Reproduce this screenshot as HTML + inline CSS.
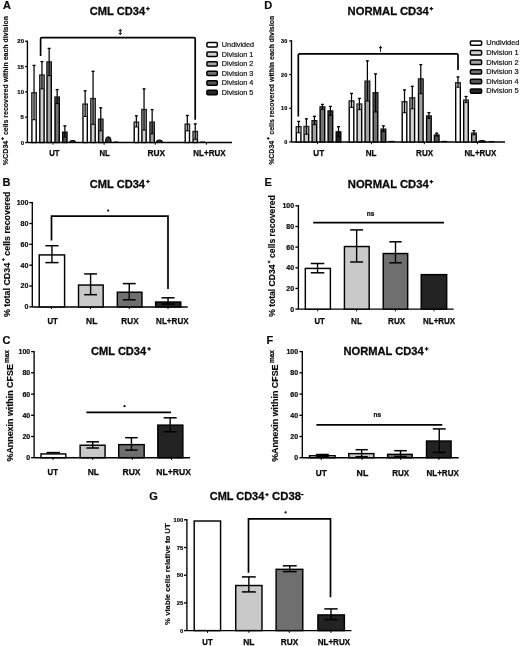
<!DOCTYPE html>
<html><head><meta charset="utf-8"><title>Figure</title>
<style>html,body{margin:0;padding:0;background:#fff;overflow:hidden;}svg{display:block;will-change:transform;filter:blur(0.3px);}</style>
</head><body>
<svg width="520" height="646" viewBox="0 0 520 646">
<rect width="520" height="646" fill="#fff"/>
<text x="3" y="8.9" font-family='"Liberation Sans", sans-serif' font-size="11" font-weight="bold" fill="#0a0a0a" stroke="#0a0a0a" stroke-width="0.2" text-anchor="start">A</text>
<text x="89.76" y="14.6" font-family='"Liberation Sans", sans-serif' font-size="11.5" font-weight="bold" fill="#0a0a0a" stroke="#0a0a0a" stroke-width="0.3" textLength="55.33" lengthAdjust="spacingAndGlyphs">CML CD34</text>
<path d="M146.1,8.6H149.7M147.9,6.8V10.4" stroke="#0a0a0a" stroke-width="1.2" fill="none"/>
<text transform="translate(8,165.28) rotate(-90)" x="0" y="0" font-family='"Liberation Sans", sans-serif' font-size="7.1" font-weight="bold" fill="#0a0a0a" stroke="#0a0a0a" stroke-width="0.15" textLength="24.62" lengthAdjust="spacingAndGlyphs">%CD34</text>
<path d="M1.2,138.6H4M2.6,137.2V140" stroke="#0a0a0a" stroke-width="0.95" fill="none"/>
<text transform="translate(8,135.08) rotate(-90)" x="0" y="0" font-family='"Liberation Sans", sans-serif' font-size="7.1" font-weight="bold" fill="#0a0a0a" stroke="#0a0a0a" stroke-width="0.15" textLength="119.01" lengthAdjust="spacingAndGlyphs">cells recovered within each division</text>
<line x1="27.4" y1="40.62" x2="27.4" y2="142.5" stroke="#000000" stroke-width="1.35"/>
<line x1="25.2" y1="41.3" x2="27.4" y2="41.3" stroke="#000000" stroke-width="1.35"/>
<text x="24.05" y="43.37" font-family='"Liberation Sans", sans-serif' font-size="6" font-weight="bold" fill="#0a0a0a" stroke="#0a0a0a" stroke-width="0.2" text-anchor="end">20</text>
<line x1="25.2" y1="66.6" x2="27.4" y2="66.6" stroke="#000000" stroke-width="1.35"/>
<text x="23.96" y="68.67" font-family='"Liberation Sans", sans-serif' font-size="6" font-weight="bold" fill="#0a0a0a" stroke="#0a0a0a" stroke-width="0.2" text-anchor="end">15</text>
<line x1="25.2" y1="91.9" x2="27.4" y2="91.9" stroke="#000000" stroke-width="1.35"/>
<text x="24.05" y="93.97" font-family='"Liberation Sans", sans-serif' font-size="6" font-weight="bold" fill="#0a0a0a" stroke="#0a0a0a" stroke-width="0.2" text-anchor="end">10</text>
<line x1="25.2" y1="117.2" x2="27.4" y2="117.2" stroke="#000000" stroke-width="1.35"/>
<text x="23.96" y="119.27" font-family='"Liberation Sans", sans-serif' font-size="6" font-weight="bold" fill="#0a0a0a" stroke="#0a0a0a" stroke-width="0.2" text-anchor="end">5</text>
<line x1="25.2" y1="142.5" x2="27.4" y2="142.5" stroke="#000000" stroke-width="1.35"/>
<text x="24.05" y="144.57" font-family='"Liberation Sans", sans-serif' font-size="6" font-weight="bold" fill="#0a0a0a" stroke="#0a0a0a" stroke-width="0.2" text-anchor="end">0</text>
<line x1="27.4" y1="142.5" x2="232" y2="142.5" stroke="#000000" stroke-width="1.45"/>
<line x1="53" y1="142.5" x2="53" y2="144.7" stroke="#000000" stroke-width="1"/>
<line x1="104.1" y1="142.5" x2="104.1" y2="144.7" stroke="#000000" stroke-width="1"/>
<line x1="155.3" y1="142.5" x2="155.3" y2="144.7" stroke="#000000" stroke-width="1"/>
<line x1="206.4" y1="142.5" x2="206.4" y2="144.7" stroke="#000000" stroke-width="1"/>
<rect x="31.9" y="92.9" width="4.3" height="49.6" fill="#ffffff" stroke="#000000" stroke-width="1.4" rx="0"/>
<rect x="31.8" y="92.8" width="4.5" height="26.9" fill="#8c8c8c" opacity="0.45"/>
<line x1="34.05" y1="92.2" x2="34.05" y2="119.7" stroke="#000000" stroke-width="1.1"/>
<line x1="32.55" y1="119.7" x2="35.55" y2="119.7" stroke="#000000" stroke-width="1.1"/>
<line x1="34.05" y1="65" x2="34.05" y2="92.2" stroke="#000000" stroke-width="1.25"/>
<line x1="32.55" y1="65.4" x2="35.55" y2="65.4" stroke="#000000" stroke-width="1.3"/>
<rect x="39.8" y="75.1" width="4.3" height="67.4" fill="#d0d0d0" stroke="#000000" stroke-width="1.4" rx="0"/>
<rect x="39.7" y="75" width="4.5" height="13.8" fill="#7a7a7a" opacity="0.55"/>
<line x1="41.95" y1="74.4" x2="41.95" y2="88.8" stroke="#000000" stroke-width="1.1"/>
<line x1="40.45" y1="88.8" x2="43.45" y2="88.8" stroke="#000000" stroke-width="1.1"/>
<line x1="41.95" y1="61.2" x2="41.95" y2="74.4" stroke="#000000" stroke-width="1.25"/>
<line x1="40.45" y1="61.6" x2="43.45" y2="61.6" stroke="#000000" stroke-width="1.3"/>
<rect x="47" y="62" width="4.3" height="80.5" fill="#a2a2a2" stroke="#000000" stroke-width="1.4" rx="0"/>
<rect x="46.9" y="61.9" width="4.5" height="13.7" fill="#505050" opacity="0.7"/>
<line x1="49.15" y1="61.3" x2="49.15" y2="75.6" stroke="#000000" stroke-width="1.1"/>
<line x1="47.65" y1="75.6" x2="50.65" y2="75.6" stroke="#000000" stroke-width="1.1"/>
<line x1="49.15" y1="48" x2="49.15" y2="61.3" stroke="#000000" stroke-width="1.25"/>
<line x1="47.65" y1="48.4" x2="50.65" y2="48.4" stroke="#000000" stroke-width="1.3"/>
<rect x="55" y="97.1" width="4.3" height="45.4" fill="#727272" stroke="#000000" stroke-width="1.4" rx="0"/>
<rect x="54.9" y="97" width="4.5" height="6.6" fill="#383838" opacity="0.7"/>
<line x1="57.15" y1="96.4" x2="57.15" y2="103.6" stroke="#000000" stroke-width="1.1"/>
<line x1="55.65" y1="103.6" x2="58.65" y2="103.6" stroke="#000000" stroke-width="1.1"/>
<line x1="57.15" y1="89.2" x2="57.15" y2="96.4" stroke="#000000" stroke-width="1.25"/>
<line x1="55.65" y1="89.6" x2="58.65" y2="89.6" stroke="#000000" stroke-width="1.3"/>
<rect x="62.7" y="132.2" width="4.3" height="10.3" fill="#545454" stroke="#000000" stroke-width="1.4" rx="0"/>
<rect x="62.6" y="132.1" width="4.5" height="4.9" fill="#2a2a2a" opacity="0.6"/>
<line x1="64.85" y1="131.5" x2="64.85" y2="137" stroke="#000000" stroke-width="1.1"/>
<line x1="63.35" y1="137" x2="66.35" y2="137" stroke="#000000" stroke-width="1.1"/>
<line x1="64.85" y1="125.5" x2="64.85" y2="131.5" stroke="#000000" stroke-width="1.25"/>
<line x1="63.35" y1="125.9" x2="66.35" y2="125.9" stroke="#000000" stroke-width="1.3"/>
<rect x="83" y="104.2" width="4.3" height="38.3" fill="#ffffff" stroke="#000000" stroke-width="1.4" rx="0"/>
<rect x="82.9" y="104.1" width="4.5" height="12.3" fill="#8c8c8c" opacity="0.45"/>
<line x1="85.15" y1="103.5" x2="85.15" y2="116.4" stroke="#000000" stroke-width="1.1"/>
<line x1="83.65" y1="116.4" x2="86.65" y2="116.4" stroke="#000000" stroke-width="1.1"/>
<line x1="85.15" y1="90.4" x2="85.15" y2="103.5" stroke="#000000" stroke-width="1.25"/>
<line x1="83.65" y1="90.8" x2="86.65" y2="90.8" stroke="#000000" stroke-width="1.3"/>
<rect x="90.9" y="98.6" width="4.3" height="43.9" fill="#d0d0d0" stroke="#000000" stroke-width="1.4" rx="0"/>
<rect x="90.8" y="98.5" width="4.5" height="25.8" fill="#7a7a7a" opacity="0.55"/>
<line x1="93.05" y1="97.9" x2="93.05" y2="124.3" stroke="#000000" stroke-width="1.1"/>
<line x1="91.55" y1="124.3" x2="94.55" y2="124.3" stroke="#000000" stroke-width="1.1"/>
<line x1="93.05" y1="70.9" x2="93.05" y2="97.9" stroke="#000000" stroke-width="1.25"/>
<line x1="91.55" y1="71.3" x2="94.55" y2="71.3" stroke="#000000" stroke-width="1.3"/>
<rect x="98.6" y="119.2" width="4.3" height="23.3" fill="#a2a2a2" stroke="#000000" stroke-width="1.4" rx="0"/>
<rect x="98.5" y="119.1" width="4.5" height="11.7" fill="#505050" opacity="0.7"/>
<line x1="100.75" y1="118.5" x2="100.75" y2="130.8" stroke="#000000" stroke-width="1.1"/>
<line x1="99.25" y1="130.8" x2="102.25" y2="130.8" stroke="#000000" stroke-width="1.1"/>
<line x1="100.75" y1="107.4" x2="100.75" y2="118.5" stroke="#000000" stroke-width="1.25"/>
<line x1="99.25" y1="107.8" x2="102.25" y2="107.8" stroke="#000000" stroke-width="1.3"/>
<rect x="134.2" y="122.2" width="4.3" height="20.3" fill="#ffffff" stroke="#000000" stroke-width="1.4" rx="0"/>
<rect x="134.1" y="122.1" width="4.5" height="4.8" fill="#8c8c8c" opacity="0.45"/>
<line x1="136.35" y1="121.5" x2="136.35" y2="126.9" stroke="#000000" stroke-width="1.1"/>
<line x1="134.85" y1="126.9" x2="137.85" y2="126.9" stroke="#000000" stroke-width="1.1"/>
<line x1="136.35" y1="115.4" x2="136.35" y2="121.5" stroke="#000000" stroke-width="1.25"/>
<line x1="134.85" y1="115.8" x2="137.85" y2="115.8" stroke="#000000" stroke-width="1.3"/>
<rect x="141.9" y="109.5" width="4.3" height="33" fill="#d0d0d0" stroke="#000000" stroke-width="1.4" rx="0"/>
<rect x="141.8" y="109.4" width="4.5" height="20.6" fill="#7a7a7a" opacity="0.55"/>
<line x1="144.05" y1="108.8" x2="144.05" y2="130" stroke="#000000" stroke-width="1.1"/>
<line x1="142.55" y1="130" x2="145.55" y2="130" stroke="#000000" stroke-width="1.1"/>
<line x1="144.05" y1="88.5" x2="144.05" y2="108.8" stroke="#000000" stroke-width="1.25"/>
<line x1="142.55" y1="88.9" x2="145.55" y2="88.9" stroke="#000000" stroke-width="1.3"/>
<rect x="150" y="122.2" width="4.3" height="20.3" fill="#a2a2a2" stroke="#000000" stroke-width="1.4" rx="0"/>
<rect x="149.9" y="122.1" width="4.5" height="11.7" fill="#505050" opacity="0.7"/>
<line x1="152.15" y1="121.5" x2="152.15" y2="133.8" stroke="#000000" stroke-width="1.1"/>
<line x1="150.65" y1="133.8" x2="153.65" y2="133.8" stroke="#000000" stroke-width="1.1"/>
<line x1="152.15" y1="109.2" x2="152.15" y2="121.5" stroke="#000000" stroke-width="1.25"/>
<line x1="150.65" y1="109.6" x2="153.65" y2="109.6" stroke="#000000" stroke-width="1.3"/>
<rect x="185.2" y="124.2" width="4.3" height="18.3" fill="#ffffff" stroke="#000000" stroke-width="1.4" rx="0"/>
<rect x="185.1" y="124.1" width="4.5" height="6.7" fill="#8c8c8c" opacity="0.45"/>
<line x1="187.35" y1="123.5" x2="187.35" y2="130.8" stroke="#000000" stroke-width="1.1"/>
<line x1="185.85" y1="130.8" x2="188.85" y2="130.8" stroke="#000000" stroke-width="1.1"/>
<line x1="187.35" y1="115.1" x2="187.35" y2="123.5" stroke="#000000" stroke-width="1.25"/>
<line x1="185.85" y1="115.5" x2="188.85" y2="115.5" stroke="#000000" stroke-width="1.3"/>
<rect x="193.1" y="131.5" width="4.3" height="11" fill="#d0d0d0" stroke="#000000" stroke-width="1.4" rx="0"/>
<rect x="193" y="131.4" width="4.5" height="7.8" fill="#7a7a7a" opacity="0.55"/>
<line x1="195.25" y1="130.8" x2="195.25" y2="139.2" stroke="#000000" stroke-width="1.1"/>
<line x1="193.75" y1="139.2" x2="196.75" y2="139.2" stroke="#000000" stroke-width="1.1"/>
<line x1="195.25" y1="123.5" x2="195.25" y2="130.8" stroke="#000000" stroke-width="1.25"/>
<line x1="193.75" y1="123.9" x2="196.75" y2="123.9" stroke="#000000" stroke-width="1.3"/>
<path d="M69.8,142.5 Q69.8,140.6 72.65,140.6 Q75.5,140.6 75.5,142.5 Z" stroke="#000000" stroke-width="1.1" fill="#333"/>
<path d="M105.5,142.5 Q105.5,136.9 108.3,136.9 Q111.1,136.9 111.1,142.5 Z" stroke="#000000" stroke-width="1.1" fill="#333"/>
<line x1="113.9" y1="142.1" x2="118.5" y2="142.1" stroke="#000000" stroke-width="1.2"/>
<path d="M156.5,142.5 Q156.5,140 159.45,140 Q162.4,140 162.4,142.5 Z" stroke="#000000" stroke-width="1.1" fill="#333"/>
<line x1="200.4" y1="142.1" x2="205" y2="142.1" stroke="#000000" stroke-width="1.2"/>
<path d="M40.6,56.1 V38.8 Q40.6,37.6 41.8,37.6 H194 Q195.2,37.6 195.2,38.8 V119.7" stroke="#000000" stroke-width="1.7" fill="none"/>
<text x="120.2" y="33.9" font-family='"Liberation Sans", sans-serif' font-size="6.3" font-weight="bold" fill="#0a0a0a" stroke="#0a0a0a" stroke-width="0.35" text-anchor="middle">‡</text>
<rect x="206.9" y="42.55" width="10.4" height="4.4" fill="#ffffff" stroke="#000000" stroke-width="1.5" rx="1"/>
<text x="221.86" y="47.05" font-family='"Liberation Sans", sans-serif' font-size="7.25" font-weight="normal" fill="#111111" stroke="#111111" stroke-width="0.2" text-anchor="start">Undivided</text>
<rect x="206.9" y="52.1" width="10.4" height="4.4" fill="#d0d0d0" stroke="#000000" stroke-width="1.5" rx="1"/>
<text x="221.86" y="56.6" font-family='"Liberation Sans", sans-serif' font-size="7.25" font-weight="normal" fill="#111111" stroke="#111111" stroke-width="0.2" text-anchor="start">Division 1</text>
<rect x="206.9" y="61.65" width="10.4" height="4.4" fill="#a2a2a2" stroke="#000000" stroke-width="1.5" rx="1"/>
<text x="221.86" y="66.15" font-family='"Liberation Sans", sans-serif' font-size="7.25" font-weight="normal" fill="#111111" stroke="#111111" stroke-width="0.2" text-anchor="start">Division 2</text>
<rect x="206.9" y="71.2" width="10.4" height="4.4" fill="#727272" stroke="#000000" stroke-width="1.5" rx="1"/>
<text x="221.86" y="75.7" font-family='"Liberation Sans", sans-serif' font-size="7.25" font-weight="normal" fill="#111111" stroke="#111111" stroke-width="0.2" text-anchor="start">Division 3</text>
<rect x="206.9" y="80.75" width="10.4" height="4.4" fill="#545454" stroke="#000000" stroke-width="1.5" rx="1"/>
<text x="221.86" y="85.25" font-family='"Liberation Sans", sans-serif' font-size="7.25" font-weight="normal" fill="#111111" stroke="#111111" stroke-width="0.2" text-anchor="start">Division 4</text>
<rect x="206.9" y="90.3" width="10.4" height="4.4" fill="#262626" stroke="#000000" stroke-width="1.5" rx="1"/>
<text x="221.86" y="94.8" font-family='"Liberation Sans", sans-serif' font-size="7.25" font-weight="normal" fill="#111111" stroke="#111111" stroke-width="0.2" text-anchor="start">Division 5</text>
<text x="49.14" y="156.2" font-family='"Liberation Sans", sans-serif' font-size="8.2" font-weight="bold" fill="#0a0a0a" stroke="#0a0a0a" stroke-width="0.25" textLength="10.16" lengthAdjust="spacingAndGlyphs">UT</text>
<text x="99.49" y="156.2" font-family='"Liberation Sans", sans-serif' font-size="8.2" font-weight="bold" fill="#0a0a0a" stroke="#0a0a0a" stroke-width="0.25" textLength="10.36" lengthAdjust="spacingAndGlyphs">NL</text>
<text x="147.46" y="156.2" font-family='"Liberation Sans", sans-serif' font-size="8.2" font-weight="bold" fill="#0a0a0a" stroke="#0a0a0a" stroke-width="0.25" textLength="17.64" lengthAdjust="spacingAndGlyphs">RUX</text>
<text x="193.28" y="156.2" font-family='"Liberation Sans", sans-serif' font-size="8.2" font-weight="bold" fill="#0a0a0a" stroke="#0a0a0a" stroke-width="0.25" textLength="32.43" lengthAdjust="spacingAndGlyphs">NL+RUX</text>
<text x="264.2" y="9" font-family='"Liberation Sans", sans-serif' font-size="11" font-weight="bold" fill="#0a0a0a" stroke="#0a0a0a" stroke-width="0.2" text-anchor="start">D</text>
<text x="347.57" y="14.7" font-family='"Liberation Sans", sans-serif' font-size="11.5" font-weight="bold" fill="#0a0a0a" stroke="#0a0a0a" stroke-width="0.3" textLength="81.19" lengthAdjust="spacingAndGlyphs">NORMAL CD34</text>
<path d="M429.6,8.7H433.2M431.4,6.9V10.5" stroke="#0a0a0a" stroke-width="1.2" fill="none"/>
<text transform="translate(274.4,164.87) rotate(-90)" x="0" y="0" font-family='"Liberation Sans", sans-serif' font-size="7.1" font-weight="bold" fill="#0a0a0a" stroke="#0a0a0a" stroke-width="0.15" textLength="24.02" lengthAdjust="spacingAndGlyphs">%CD34</text>
<path d="M266.8,138.4H269.6M268.2,137V139.8" stroke="#0a0a0a" stroke-width="0.95" fill="none"/>
<text transform="translate(274.4,134.68) rotate(-90)" x="0" y="0" font-family='"Liberation Sans", sans-serif' font-size="7.1" font-weight="bold" fill="#0a0a0a" stroke="#0a0a0a" stroke-width="0.15" textLength="118.86" lengthAdjust="spacingAndGlyphs">cells recovered within each division</text>
<line x1="291.5" y1="40.23" x2="291.5" y2="142" stroke="#000000" stroke-width="1.35"/>
<line x1="289.3" y1="40.9" x2="291.5" y2="40.9" stroke="#000000" stroke-width="1.35"/>
<text x="287.23" y="42.8" font-family='"Liberation Sans", sans-serif' font-size="5.5" font-weight="bold" fill="#0a0a0a" stroke="#0a0a0a" stroke-width="0.2" text-anchor="end">30</text>
<line x1="289.3" y1="74.6" x2="291.5" y2="74.6" stroke="#000000" stroke-width="1.35"/>
<text x="287.23" y="76.5" font-family='"Liberation Sans", sans-serif' font-size="5.5" font-weight="bold" fill="#0a0a0a" stroke="#0a0a0a" stroke-width="0.2" text-anchor="end">20</text>
<line x1="289.3" y1="108.3" x2="291.5" y2="108.3" stroke="#000000" stroke-width="1.35"/>
<text x="287.23" y="110.2" font-family='"Liberation Sans", sans-serif' font-size="5.5" font-weight="bold" fill="#0a0a0a" stroke="#0a0a0a" stroke-width="0.2" text-anchor="end">10</text>
<line x1="289.3" y1="142" x2="291.5" y2="142" stroke="#000000" stroke-width="1.35"/>
<text x="287.23" y="143.9" font-family='"Liberation Sans", sans-serif' font-size="5.5" font-weight="bold" fill="#0a0a0a" stroke="#0a0a0a" stroke-width="0.2" text-anchor="end">0</text>
<line x1="291.5" y1="142" x2="505" y2="142" stroke="#000000" stroke-width="1.45"/>
<line x1="317.6" y1="142" x2="317.6" y2="144.2" stroke="#000000" stroke-width="1"/>
<line x1="371.4" y1="142" x2="371.4" y2="144.2" stroke="#000000" stroke-width="1"/>
<line x1="424.3" y1="142" x2="424.3" y2="144.2" stroke="#000000" stroke-width="1"/>
<line x1="477.4" y1="142" x2="477.4" y2="144.2" stroke="#000000" stroke-width="1"/>
<rect x="296.3" y="126.8" width="4.6" height="15.2" fill="#ffffff" stroke="#000000" stroke-width="1.4" rx="0"/>
<rect x="296.2" y="126.7" width="4.8" height="6" fill="#8c8c8c" opacity="0.45"/>
<line x1="298.6" y1="126.1" x2="298.6" y2="132.7" stroke="#000000" stroke-width="1.1"/>
<line x1="297.1" y1="132.7" x2="300.1" y2="132.7" stroke="#000000" stroke-width="1.1"/>
<line x1="298.6" y1="121" x2="298.6" y2="126.1" stroke="#000000" stroke-width="1.25"/>
<line x1="297.1" y1="121.4" x2="300.1" y2="121.4" stroke="#000000" stroke-width="1.3"/>
<rect x="304.1" y="126.5" width="4.6" height="15.5" fill="#d0d0d0" stroke="#000000" stroke-width="1.4" rx="0"/>
<rect x="304" y="126.4" width="4.8" height="7.8" fill="#7a7a7a" opacity="0.55"/>
<line x1="306.4" y1="125.8" x2="306.4" y2="134.2" stroke="#000000" stroke-width="1.1"/>
<line x1="304.9" y1="134.2" x2="307.9" y2="134.2" stroke="#000000" stroke-width="1.1"/>
<line x1="306.4" y1="118.4" x2="306.4" y2="125.8" stroke="#000000" stroke-width="1.25"/>
<line x1="304.9" y1="118.8" x2="307.9" y2="118.8" stroke="#000000" stroke-width="1.3"/>
<rect x="312.1" y="120.7" width="4.6" height="21.3" fill="#a2a2a2" stroke="#000000" stroke-width="1.4" rx="0"/>
<rect x="312" y="120.6" width="4.8" height="4" fill="#505050" opacity="0.7"/>
<line x1="314.4" y1="120" x2="314.4" y2="124.6" stroke="#000000" stroke-width="1.1"/>
<line x1="312.9" y1="124.6" x2="315.9" y2="124.6" stroke="#000000" stroke-width="1.1"/>
<line x1="314.4" y1="115.9" x2="314.4" y2="120" stroke="#000000" stroke-width="1.25"/>
<line x1="312.9" y1="116.3" x2="315.9" y2="116.3" stroke="#000000" stroke-width="1.3"/>
<rect x="320.1" y="106.9" width="4.6" height="35.1" fill="#727272" stroke="#000000" stroke-width="1.4" rx="0"/>
<rect x="320" y="106.8" width="4.8" height="2.5" fill="#383838" opacity="0.7"/>
<line x1="322.4" y1="106.2" x2="322.4" y2="109.3" stroke="#000000" stroke-width="1.1"/>
<line x1="320.9" y1="109.3" x2="323.9" y2="109.3" stroke="#000000" stroke-width="1.1"/>
<line x1="322.4" y1="104" x2="322.4" y2="106.2" stroke="#000000" stroke-width="1.25"/>
<line x1="320.9" y1="104.4" x2="323.9" y2="104.4" stroke="#000000" stroke-width="1.3"/>
<rect x="328.1" y="111" width="4.6" height="31" fill="#545454" stroke="#000000" stroke-width="1.4" rx="0"/>
<rect x="328" y="110.9" width="4.8" height="4.5" fill="#2a2a2a" opacity="0.6"/>
<line x1="330.4" y1="110.3" x2="330.4" y2="115.4" stroke="#000000" stroke-width="1.1"/>
<line x1="328.9" y1="115.4" x2="331.9" y2="115.4" stroke="#000000" stroke-width="1.1"/>
<line x1="330.4" y1="106" x2="330.4" y2="110.3" stroke="#000000" stroke-width="1.25"/>
<line x1="328.9" y1="106.4" x2="331.9" y2="106.4" stroke="#000000" stroke-width="1.3"/>
<rect x="336.2" y="131.9" width="4.6" height="10.1" fill="#262626" stroke="#000000" stroke-width="1.4" rx="0"/>
<rect x="336.1" y="131.8" width="4.8" height="5" fill="#111111" opacity="0.5"/>
<line x1="338.5" y1="131.2" x2="338.5" y2="136.8" stroke="#000000" stroke-width="1.1"/>
<line x1="337" y1="136.8" x2="340" y2="136.8" stroke="#000000" stroke-width="1.1"/>
<line x1="338.5" y1="126.3" x2="338.5" y2="131.2" stroke="#000000" stroke-width="1.25"/>
<line x1="337" y1="126.7" x2="340" y2="126.7" stroke="#000000" stroke-width="1.3"/>
<rect x="349.2" y="101" width="4.6" height="41" fill="#ffffff" stroke="#000000" stroke-width="1.4" rx="0"/>
<rect x="349.1" y="100.9" width="4.8" height="6.4" fill="#8c8c8c" opacity="0.45"/>
<line x1="351.5" y1="100.3" x2="351.5" y2="107.3" stroke="#000000" stroke-width="1.1"/>
<line x1="350" y1="107.3" x2="353" y2="107.3" stroke="#000000" stroke-width="1.1"/>
<line x1="351.5" y1="93" x2="351.5" y2="100.3" stroke="#000000" stroke-width="1.25"/>
<line x1="350" y1="93.4" x2="353" y2="93.4" stroke="#000000" stroke-width="1.3"/>
<rect x="357.1" y="104.1" width="4.6" height="37.9" fill="#d0d0d0" stroke="#000000" stroke-width="1.4" rx="0"/>
<rect x="357" y="104" width="4.8" height="5.6" fill="#7a7a7a" opacity="0.55"/>
<line x1="359.4" y1="103.4" x2="359.4" y2="109.6" stroke="#000000" stroke-width="1.1"/>
<line x1="357.9" y1="109.6" x2="360.9" y2="109.6" stroke="#000000" stroke-width="1.1"/>
<line x1="359.4" y1="98" x2="359.4" y2="103.4" stroke="#000000" stroke-width="1.25"/>
<line x1="357.9" y1="98.4" x2="360.9" y2="98.4" stroke="#000000" stroke-width="1.3"/>
<rect x="365.1" y="81.2" width="4.6" height="60.8" fill="#a2a2a2" stroke="#000000" stroke-width="1.4" rx="0"/>
<rect x="365" y="81.1" width="4.8" height="19.9" fill="#505050" opacity="0.7"/>
<line x1="367.4" y1="80.5" x2="367.4" y2="101" stroke="#000000" stroke-width="1.1"/>
<line x1="365.9" y1="101" x2="368.9" y2="101" stroke="#000000" stroke-width="1.1"/>
<line x1="367.4" y1="60.5" x2="367.4" y2="80.5" stroke="#000000" stroke-width="1.25"/>
<line x1="365.9" y1="60.9" x2="368.9" y2="60.9" stroke="#000000" stroke-width="1.3"/>
<rect x="373.2" y="92.8" width="4.6" height="49.2" fill="#727272" stroke="#000000" stroke-width="1.4" rx="0"/>
<rect x="373.1" y="92.7" width="4.8" height="19.2" fill="#383838" opacity="0.7"/>
<line x1="375.5" y1="92.1" x2="375.5" y2="111.9" stroke="#000000" stroke-width="1.1"/>
<line x1="374" y1="111.9" x2="377" y2="111.9" stroke="#000000" stroke-width="1.1"/>
<line x1="375.5" y1="73.5" x2="375.5" y2="92.1" stroke="#000000" stroke-width="1.25"/>
<line x1="374" y1="73.9" x2="377" y2="73.9" stroke="#000000" stroke-width="1.3"/>
<rect x="381.1" y="129.2" width="4.6" height="12.8" fill="#545454" stroke="#000000" stroke-width="1.4" rx="0"/>
<rect x="381" y="129.1" width="4.8" height="2.4" fill="#2a2a2a" opacity="0.6"/>
<line x1="383.4" y1="128.5" x2="383.4" y2="131.5" stroke="#000000" stroke-width="1.1"/>
<line x1="381.9" y1="131.5" x2="384.9" y2="131.5" stroke="#000000" stroke-width="1.1"/>
<line x1="383.4" y1="125.5" x2="383.4" y2="128.5" stroke="#000000" stroke-width="1.25"/>
<line x1="381.9" y1="125.9" x2="384.9" y2="125.9" stroke="#000000" stroke-width="1.3"/>
<rect x="402.2" y="101.8" width="4.6" height="40.2" fill="#ffffff" stroke="#000000" stroke-width="1.4" rx="0"/>
<rect x="402.1" y="101.7" width="4.8" height="11" fill="#8c8c8c" opacity="0.45"/>
<line x1="404.5" y1="101.1" x2="404.5" y2="112.7" stroke="#000000" stroke-width="1.1"/>
<line x1="403" y1="112.7" x2="406" y2="112.7" stroke="#000000" stroke-width="1.1"/>
<line x1="404.5" y1="89.5" x2="404.5" y2="101.1" stroke="#000000" stroke-width="1.25"/>
<line x1="403" y1="89.9" x2="406" y2="89.9" stroke="#000000" stroke-width="1.3"/>
<rect x="410" y="97.9" width="4.6" height="44.1" fill="#d0d0d0" stroke="#000000" stroke-width="1.4" rx="0"/>
<rect x="409.9" y="97.8" width="4.8" height="11" fill="#7a7a7a" opacity="0.55"/>
<line x1="412.3" y1="97.2" x2="412.3" y2="108.8" stroke="#000000" stroke-width="1.1"/>
<line x1="410.8" y1="108.8" x2="413.8" y2="108.8" stroke="#000000" stroke-width="1.1"/>
<line x1="412.3" y1="85.9" x2="412.3" y2="97.2" stroke="#000000" stroke-width="1.25"/>
<line x1="410.8" y1="86.3" x2="413.8" y2="86.3" stroke="#000000" stroke-width="1.3"/>
<rect x="418.5" y="79" width="4.6" height="63" fill="#a2a2a2" stroke="#000000" stroke-width="1.4" rx="0"/>
<rect x="418.4" y="78.9" width="4.8" height="14.7" fill="#505050" opacity="0.7"/>
<line x1="420.8" y1="78.3" x2="420.8" y2="93.6" stroke="#000000" stroke-width="1.1"/>
<line x1="419.3" y1="93.6" x2="422.3" y2="93.6" stroke="#000000" stroke-width="1.1"/>
<line x1="420.8" y1="64.2" x2="420.8" y2="78.3" stroke="#000000" stroke-width="1.25"/>
<line x1="419.3" y1="64.6" x2="422.3" y2="64.6" stroke="#000000" stroke-width="1.3"/>
<rect x="426.6" y="116" width="4.6" height="26" fill="#727272" stroke="#000000" stroke-width="1.4" rx="0"/>
<rect x="426.5" y="115.9" width="4.8" height="2.5" fill="#383838" opacity="0.7"/>
<line x1="428.9" y1="115.3" x2="428.9" y2="118.4" stroke="#000000" stroke-width="1.1"/>
<line x1="427.4" y1="118.4" x2="430.4" y2="118.4" stroke="#000000" stroke-width="1.1"/>
<line x1="428.9" y1="112.2" x2="428.9" y2="115.3" stroke="#000000" stroke-width="1.25"/>
<line x1="427.4" y1="112.6" x2="430.4" y2="112.6" stroke="#000000" stroke-width="1.3"/>
<rect x="434.4" y="135.1" width="4.6" height="6.9" fill="#545454" stroke="#000000" stroke-width="1.4" rx="0"/>
<rect x="434.3" y="135" width="4.8" height="1" fill="#2a2a2a" opacity="0.6"/>
<line x1="436.7" y1="134.4" x2="436.7" y2="136" stroke="#000000" stroke-width="1.1"/>
<line x1="435.2" y1="136" x2="438.2" y2="136" stroke="#000000" stroke-width="1.1"/>
<line x1="436.7" y1="132.8" x2="436.7" y2="134.4" stroke="#000000" stroke-width="1.25"/>
<line x1="435.2" y1="133.2" x2="438.2" y2="133.2" stroke="#000000" stroke-width="1.3"/>
<rect x="455.7" y="82.9" width="4.6" height="59.1" fill="#ffffff" stroke="#000000" stroke-width="1.4" rx="0"/>
<rect x="455.6" y="82.8" width="4.8" height="4.4" fill="#8c8c8c" opacity="0.45"/>
<line x1="458" y1="82.2" x2="458" y2="87.2" stroke="#000000" stroke-width="1.1"/>
<line x1="456.5" y1="87.2" x2="459.5" y2="87.2" stroke="#000000" stroke-width="1.1"/>
<line x1="458" y1="76.6" x2="458" y2="82.2" stroke="#000000" stroke-width="1.25"/>
<line x1="456.5" y1="77" x2="459.5" y2="77" stroke="#000000" stroke-width="1.3"/>
<rect x="463.7" y="100.2" width="4.6" height="41.8" fill="#d0d0d0" stroke="#000000" stroke-width="1.4" rx="0"/>
<rect x="463.6" y="100.1" width="4.8" height="2.5" fill="#7a7a7a" opacity="0.55"/>
<line x1="466" y1="99.5" x2="466" y2="102.6" stroke="#000000" stroke-width="1.1"/>
<line x1="464.5" y1="102.6" x2="467.5" y2="102.6" stroke="#000000" stroke-width="1.1"/>
<line x1="466" y1="96.1" x2="466" y2="99.5" stroke="#000000" stroke-width="1.25"/>
<line x1="464.5" y1="96.5" x2="467.5" y2="96.5" stroke="#000000" stroke-width="1.3"/>
<rect x="471.6" y="133.2" width="4.6" height="8.8" fill="#a2a2a2" stroke="#000000" stroke-width="1.4" rx="0"/>
<rect x="471.5" y="133.1" width="4.8" height="1.7" fill="#505050" opacity="0.7"/>
<line x1="473.9" y1="132.5" x2="473.9" y2="134.8" stroke="#000000" stroke-width="1.1"/>
<line x1="472.4" y1="134.8" x2="475.4" y2="134.8" stroke="#000000" stroke-width="1.1"/>
<line x1="473.9" y1="130.2" x2="473.9" y2="132.5" stroke="#000000" stroke-width="1.25"/>
<line x1="472.4" y1="130.6" x2="475.4" y2="130.6" stroke="#000000" stroke-width="1.3"/>
<line x1="388.6" y1="141.5" x2="394.6" y2="141.5" stroke="#000000" stroke-width="1.3"/>
<line x1="441.5" y1="141.5" x2="447.2" y2="141.5" stroke="#000000" stroke-width="1.3"/>
<path d="M478.5,142 Q478.5,140.6 482,140.6 Q485.5,140.6 485.5,142 Z" stroke="#000000" stroke-width="1.1" fill="#333"/>
<line x1="488.5" y1="141.6" x2="494.5" y2="141.6" stroke="#000000" stroke-width="1.2"/>
<path d="M298.3,116.4 V55 Q298.3,53.8 299.5,53.8 H456.8 Q458,53.8 458,55 V70.1" stroke="#000000" stroke-width="1.7" fill="none"/>
<text x="380.5" y="50.9" font-family='"Liberation Sans", sans-serif' font-size="6.3" font-weight="bold" fill="#0a0a0a" stroke="#0a0a0a" stroke-width="0.4" text-anchor="middle">†</text>
<rect x="470.4" y="40.9" width="11.2" height="4.4" fill="#ffffff" stroke="#000000" stroke-width="1.5" rx="1"/>
<text x="486.34" y="45.4" font-family='"Liberation Sans", sans-serif' font-size="7.46" font-weight="normal" fill="#111111" stroke="#111111" stroke-width="0.2" text-anchor="start">Undivided</text>
<rect x="470.4" y="50.5" width="11.2" height="4.4" fill="#d0d0d0" stroke="#000000" stroke-width="1.5" rx="1"/>
<text x="486.34" y="55" font-family='"Liberation Sans", sans-serif' font-size="7.46" font-weight="normal" fill="#111111" stroke="#111111" stroke-width="0.2" text-anchor="start">Division 1</text>
<rect x="470.4" y="60.1" width="11.2" height="4.4" fill="#a2a2a2" stroke="#000000" stroke-width="1.5" rx="1"/>
<text x="486.34" y="64.6" font-family='"Liberation Sans", sans-serif' font-size="7.46" font-weight="normal" fill="#111111" stroke="#111111" stroke-width="0.2" text-anchor="start">Division 2</text>
<rect x="470.4" y="69.7" width="11.2" height="4.4" fill="#727272" stroke="#000000" stroke-width="1.5" rx="1"/>
<text x="486.34" y="74.2" font-family='"Liberation Sans", sans-serif' font-size="7.46" font-weight="normal" fill="#111111" stroke="#111111" stroke-width="0.2" text-anchor="start">Division 3</text>
<rect x="470.4" y="79.3" width="11.2" height="4.4" fill="#545454" stroke="#000000" stroke-width="1.5" rx="1"/>
<text x="486.34" y="83.8" font-family='"Liberation Sans", sans-serif' font-size="7.46" font-weight="normal" fill="#111111" stroke="#111111" stroke-width="0.2" text-anchor="start">Division 4</text>
<rect x="470.4" y="88.9" width="11.2" height="4.4" fill="#262626" stroke="#000000" stroke-width="1.5" rx="1"/>
<text x="486.34" y="93.4" font-family='"Liberation Sans", sans-serif' font-size="7.46" font-weight="normal" fill="#111111" stroke="#111111" stroke-width="0.2" text-anchor="start">Division 5</text>
<text x="313.31" y="155.8" font-family='"Liberation Sans", sans-serif' font-size="8.2" font-weight="bold" fill="#0a0a0a" stroke="#0a0a0a" stroke-width="0.25" textLength="10.79" lengthAdjust="spacingAndGlyphs">UT</text>
<text x="365.77" y="155.8" font-family='"Liberation Sans", sans-serif' font-size="8.2" font-weight="bold" fill="#0a0a0a" stroke="#0a0a0a" stroke-width="0.25" textLength="10.79" lengthAdjust="spacingAndGlyphs">NL</text>
<text x="416.08" y="155.8" font-family='"Liberation Sans", sans-serif' font-size="8.2" font-weight="bold" fill="#0a0a0a" stroke="#0a0a0a" stroke-width="0.25" textLength="17.02" lengthAdjust="spacingAndGlyphs">RUX</text>
<text x="464.38" y="155.8" font-family='"Liberation Sans", sans-serif' font-size="8.2" font-weight="bold" fill="#0a0a0a" stroke="#0a0a0a" stroke-width="0.25" textLength="31.92" lengthAdjust="spacingAndGlyphs">NL+RUX</text>
<text x="2.6" y="185.9" font-family='"Liberation Sans", sans-serif' font-size="11" font-weight="bold" fill="#0a0a0a" stroke="#0a0a0a" stroke-width="0.2" text-anchor="start">B</text>
<text x="89.76" y="187.5" font-family='"Liberation Sans", sans-serif' font-size="11.5" font-weight="bold" fill="#0a0a0a" stroke="#0a0a0a" stroke-width="0.3" textLength="55.23" lengthAdjust="spacingAndGlyphs">CML CD34</text>
<path d="M146.1,181.5H149.7M147.9,179.7V183.3" stroke="#0a0a0a" stroke-width="1.2" fill="none"/>
<text transform="translate(10.2,317.12) rotate(-90)" x="0" y="0" font-family='"Liberation Sans", sans-serif' font-size="8.8" font-weight="bold" fill="#0a0a0a" stroke="#0a0a0a" stroke-width="0.15" textLength="54.29" lengthAdjust="spacingAndGlyphs">% total CD34</text>
<path d="M2,259.6H4.8M3.4,258.2V261" stroke="#0a0a0a" stroke-width="0.95" fill="none"/>
<text transform="translate(10.2,255.65) rotate(-90)" x="0" y="0" font-family='"Liberation Sans", sans-serif' font-size="8.8" font-weight="bold" fill="#0a0a0a" stroke="#0a0a0a" stroke-width="0.15" textLength="64.15" lengthAdjust="spacingAndGlyphs">cells recovered</text>
<line x1="32.3" y1="201.92" x2="32.3" y2="306.9" stroke="#000000" stroke-width="1.35"/>
<line x1="29.3" y1="202.6" x2="32.3" y2="202.6" stroke="#000000" stroke-width="1.35"/>
<text x="28.4" y="205.01" font-family='"Liberation Sans", sans-serif' font-size="7" font-weight="bold" fill="#0a0a0a" stroke="#0a0a0a" stroke-width="0.2" text-anchor="end">100</text>
<line x1="29.3" y1="223.5" x2="32.3" y2="223.5" stroke="#000000" stroke-width="1.35"/>
<text x="28.4" y="225.91" font-family='"Liberation Sans", sans-serif' font-size="7" font-weight="bold" fill="#0a0a0a" stroke="#0a0a0a" stroke-width="0.2" text-anchor="end">80</text>
<line x1="29.3" y1="244.3" x2="32.3" y2="244.3" stroke="#000000" stroke-width="1.35"/>
<text x="28.4" y="246.72" font-family='"Liberation Sans", sans-serif' font-size="7" font-weight="bold" fill="#0a0a0a" stroke="#0a0a0a" stroke-width="0.2" text-anchor="end">60</text>
<line x1="29.3" y1="265.2" x2="32.3" y2="265.2" stroke="#000000" stroke-width="1.35"/>
<text x="28.4" y="267.62" font-family='"Liberation Sans", sans-serif' font-size="7" font-weight="bold" fill="#0a0a0a" stroke="#0a0a0a" stroke-width="0.2" text-anchor="end">40</text>
<line x1="29.3" y1="286" x2="32.3" y2="286" stroke="#000000" stroke-width="1.35"/>
<text x="28.4" y="288.42" font-family='"Liberation Sans", sans-serif' font-size="7" font-weight="bold" fill="#0a0a0a" stroke="#0a0a0a" stroke-width="0.2" text-anchor="end">20</text>
<line x1="29.3" y1="306.9" x2="32.3" y2="306.9" stroke="#000000" stroke-width="1.35"/>
<text x="28.39" y="309.31" font-family='"Liberation Sans", sans-serif' font-size="7" font-weight="bold" fill="#0a0a0a" stroke="#0a0a0a" stroke-width="0.2" text-anchor="end">0</text>
<line x1="32.3" y1="306.9" x2="187.7" y2="306.9" stroke="#000000" stroke-width="1.45"/>
<line x1="51.5" y1="306.9" x2="51.5" y2="309.1" stroke="#000000" stroke-width="1"/>
<line x1="90.5" y1="306.9" x2="90.5" y2="309.1" stroke="#000000" stroke-width="1"/>
<line x1="129.3" y1="306.9" x2="129.3" y2="309.1" stroke="#000000" stroke-width="1"/>
<line x1="168" y1="306.9" x2="168" y2="309.1" stroke="#000000" stroke-width="1"/>
<rect x="39.23" y="254.92" width="25.35" height="51.97" fill="#ffffff" stroke="#000000" stroke-width="1.45" rx="0"/>
<line x1="51.95" y1="245.7" x2="51.95" y2="262.6" stroke="#000000" stroke-width="1.4"/>
<line x1="45.4" y1="245.7" x2="58.5" y2="245.7" stroke="#000000" stroke-width="1.5"/>
<line x1="45.4" y1="262.6" x2="58.5" y2="262.6" stroke="#000000" stroke-width="1.5"/>
<rect x="78.52" y="285.03" width="24.65" height="21.87" fill="#c9c9c9" stroke="#000000" stroke-width="1.45" rx="0"/>
<line x1="90.6" y1="273.9" x2="90.6" y2="294.7" stroke="#000000" stroke-width="1.4"/>
<line x1="84.2" y1="273.9" x2="97" y2="273.9" stroke="#000000" stroke-width="1.5"/>
<line x1="84.2" y1="294.7" x2="97" y2="294.7" stroke="#000000" stroke-width="1.5"/>
<rect x="117.32" y="292.23" width="24.65" height="14.67" fill="#6f6f6f" stroke="#000000" stroke-width="1.45" rx="0"/>
<line x1="129.25" y1="283.6" x2="129.25" y2="299.8" stroke="#000000" stroke-width="1.4"/>
<line x1="122.8" y1="283.6" x2="135.7" y2="283.6" stroke="#000000" stroke-width="1.5"/>
<line x1="122.8" y1="299.8" x2="135.7" y2="299.8" stroke="#000000" stroke-width="1.5"/>
<rect x="155.62" y="302.03" width="25.15" height="4.87" fill="#232323" stroke="#000000" stroke-width="1.45" rx="0"/>
<line x1="168.05" y1="297.8" x2="168.05" y2="304" stroke="#000000" stroke-width="1.4"/>
<line x1="161.5" y1="297.8" x2="174.6" y2="297.8" stroke="#000000" stroke-width="1.5"/>
<line x1="161.5" y1="304" x2="174.6" y2="304" stroke="#000000" stroke-width="1.5"/>
<path d="M51.5,240.5 V216.2 H168 V288.9" stroke="#000000" stroke-width="1.7" fill="none"/>
<circle cx="108.2" cy="210.6" r="1.1" fill="#0a0a0a"/>
<text x="47.54" y="324.4" font-family='"Liberation Sans", sans-serif' font-size="8.2" font-weight="bold" fill="#0a0a0a" stroke="#0a0a0a" stroke-width="0.25" textLength="10.26" lengthAdjust="spacingAndGlyphs">UT</text>
<text x="86.05" y="324.4" font-family='"Liberation Sans", sans-serif' font-size="8.2" font-weight="bold" fill="#0a0a0a" stroke="#0a0a0a" stroke-width="0.25" textLength="11.23" lengthAdjust="spacingAndGlyphs">NL</text>
<text x="121.37" y="324.4" font-family='"Liberation Sans", sans-serif' font-size="8.2" font-weight="bold" fill="#0a0a0a" stroke="#0a0a0a" stroke-width="0.25" textLength="17.22" lengthAdjust="spacingAndGlyphs">RUX</text>
<text x="156.08" y="324.4" font-family='"Liberation Sans", sans-serif' font-size="8.2" font-weight="bold" fill="#0a0a0a" stroke="#0a0a0a" stroke-width="0.25" textLength="32.53" lengthAdjust="spacingAndGlyphs">NL+RUX</text>
<text x="2.5" y="343.6" font-family='"Liberation Sans", sans-serif' font-size="11" font-weight="bold" fill="#0a0a0a" stroke="#0a0a0a" stroke-width="0.2" text-anchor="start">C</text>
<text x="91.06" y="354.9" font-family='"Liberation Sans", sans-serif' font-size="11.5" font-weight="bold" fill="#0a0a0a" stroke="#0a0a0a" stroke-width="0.3" textLength="55.13" lengthAdjust="spacingAndGlyphs">CML CD34</text>
<path d="M147.3,348.9H150.9M149.1,347.1V350.7" stroke="#0a0a0a" stroke-width="1.2" fill="none"/>
<text transform="translate(13.3,461.52) rotate(-90)" x="0" y="0" font-family='"Liberation Sans", sans-serif' font-size="8.8" font-weight="bold" fill="#0a0a0a" stroke="#0a0a0a" stroke-width="0.15" textLength="97.33" lengthAdjust="spacingAndGlyphs">%Annexin within CFSE</text>
<text transform="translate(8.7,363.01) rotate(-90)" x="0" y="0" font-family='"Liberation Sans", sans-serif' font-size="6.6" font-weight="bold" fill="#0a0a0a" stroke="#0a0a0a" stroke-width="0.25" textLength="12.76" lengthAdjust="spacingAndGlyphs">max</text>
<line x1="34.1" y1="350.93" x2="34.1" y2="457.7" stroke="#000000" stroke-width="1.35"/>
<line x1="31.1" y1="351.6" x2="34.1" y2="351.6" stroke="#000000" stroke-width="1.35"/>
<text x="30.2" y="354.02" font-family='"Liberation Sans", sans-serif' font-size="7" font-weight="bold" fill="#0a0a0a" stroke="#0a0a0a" stroke-width="0.2" text-anchor="end">100</text>
<line x1="31.1" y1="372.85" x2="34.1" y2="372.85" stroke="#000000" stroke-width="1.35"/>
<text x="30.2" y="375.27" font-family='"Liberation Sans", sans-serif' font-size="7" font-weight="bold" fill="#0a0a0a" stroke="#0a0a0a" stroke-width="0.2" text-anchor="end">80</text>
<line x1="31.1" y1="394.1" x2="34.1" y2="394.1" stroke="#000000" stroke-width="1.35"/>
<text x="30.2" y="396.52" font-family='"Liberation Sans", sans-serif' font-size="7" font-weight="bold" fill="#0a0a0a" stroke="#0a0a0a" stroke-width="0.2" text-anchor="end">60</text>
<line x1="31.1" y1="415.3" x2="34.1" y2="415.3" stroke="#000000" stroke-width="1.35"/>
<text x="30.2" y="417.72" font-family='"Liberation Sans", sans-serif' font-size="7" font-weight="bold" fill="#0a0a0a" stroke="#0a0a0a" stroke-width="0.2" text-anchor="end">40</text>
<line x1="31.1" y1="436.5" x2="34.1" y2="436.5" stroke="#000000" stroke-width="1.35"/>
<text x="30.2" y="438.92" font-family='"Liberation Sans", sans-serif' font-size="7" font-weight="bold" fill="#0a0a0a" stroke="#0a0a0a" stroke-width="0.2" text-anchor="end">20</text>
<line x1="31.1" y1="457.7" x2="34.1" y2="457.7" stroke="#000000" stroke-width="1.35"/>
<text x="30.19" y="460.12" font-family='"Liberation Sans", sans-serif' font-size="7" font-weight="bold" fill="#0a0a0a" stroke="#0a0a0a" stroke-width="0.2" text-anchor="end">0</text>
<line x1="34.1" y1="457.7" x2="190" y2="457.7" stroke="#000000" stroke-width="1.45"/>
<line x1="53" y1="457.7" x2="53" y2="459.9" stroke="#000000" stroke-width="1"/>
<line x1="92.7" y1="457.7" x2="92.7" y2="459.9" stroke="#000000" stroke-width="1"/>
<line x1="132.3" y1="457.7" x2="132.3" y2="459.9" stroke="#000000" stroke-width="1"/>
<line x1="171.5" y1="457.7" x2="171.5" y2="459.9" stroke="#000000" stroke-width="1"/>
<rect x="41.02" y="453.93" width="24.75" height="3.77" fill="#ffffff" stroke="#000000" stroke-width="1.45" rx="0"/>
<line x1="53.25" y1="452.6" x2="53.25" y2="453.2" stroke="#000000" stroke-width="1.4"/>
<line x1="46.5" y1="452.6" x2="60" y2="452.6" stroke="#000000" stroke-width="1.5"/>
<rect x="80.12" y="445.23" width="24.95" height="12.47" fill="#c9c9c9" stroke="#000000" stroke-width="1.45" rx="0"/>
<line x1="92.7" y1="441.8" x2="92.7" y2="448" stroke="#000000" stroke-width="1.4"/>
<line x1="86.4" y1="441.8" x2="99" y2="441.8" stroke="#000000" stroke-width="1.5"/>
<line x1="86.4" y1="448" x2="99" y2="448" stroke="#000000" stroke-width="1.5"/>
<rect x="118.72" y="444.62" width="25.45" height="13.08" fill="#6f6f6f" stroke="#000000" stroke-width="1.45" rx="0"/>
<line x1="131.45" y1="437.7" x2="131.45" y2="450.1" stroke="#000000" stroke-width="1.4"/>
<line x1="125.2" y1="437.7" x2="137.7" y2="437.7" stroke="#000000" stroke-width="1.5"/>
<line x1="125.2" y1="450.1" x2="137.7" y2="450.1" stroke="#000000" stroke-width="1.5"/>
<rect x="157.82" y="425.12" width="25.05" height="32.58" fill="#232323" stroke="#000000" stroke-width="1.45" rx="0"/>
<line x1="170.15" y1="417.8" x2="170.15" y2="431.7" stroke="#000000" stroke-width="1.4"/>
<line x1="163.6" y1="417.8" x2="176.7" y2="417.8" stroke="#000000" stroke-width="1.5"/>
<line x1="163.6" y1="431.7" x2="176.7" y2="431.7" stroke="#000000" stroke-width="1.5"/>
<line x1="86.4" y1="412.4" x2="171" y2="412.4" stroke="#000000" stroke-width="1.7"/>
<circle cx="124.5" cy="406.2" r="1.1" fill="#0a0a0a"/>
<text x="47.53" y="475.4" font-family='"Liberation Sans", sans-serif' font-size="8.2" font-weight="bold" fill="#0a0a0a" stroke="#0a0a0a" stroke-width="0.25" textLength="10.37" lengthAdjust="spacingAndGlyphs">UT</text>
<text x="87.65" y="475.4" font-family='"Liberation Sans", sans-serif' font-size="8.2" font-weight="bold" fill="#0a0a0a" stroke="#0a0a0a" stroke-width="0.25" textLength="11.23" lengthAdjust="spacingAndGlyphs">NL</text>
<text x="122.54" y="475.4" font-family='"Liberation Sans", sans-serif' font-size="8.2" font-weight="bold" fill="#0a0a0a" stroke="#0a0a0a" stroke-width="0.25" textLength="18.05" lengthAdjust="spacingAndGlyphs">RUX</text>
<text x="156.24" y="475.4" font-family='"Liberation Sans", sans-serif' font-size="8.2" font-weight="bold" fill="#0a0a0a" stroke="#0a0a0a" stroke-width="0.25" textLength="34.68" lengthAdjust="spacingAndGlyphs">NL+RUX</text>
<text x="264.5" y="185.9" font-family='"Liberation Sans", sans-serif' font-size="11" font-weight="bold" fill="#0a0a0a" stroke="#0a0a0a" stroke-width="0.2" text-anchor="start">E</text>
<text x="347.77" y="187.7" font-family='"Liberation Sans", sans-serif' font-size="11.5" font-weight="bold" fill="#0a0a0a" stroke="#0a0a0a" stroke-width="0.3" textLength="80.98" lengthAdjust="spacingAndGlyphs">NORMAL CD34</text>
<path d="M429.6,181.7H433.2M431.4,179.9V183.5" stroke="#0a0a0a" stroke-width="1.2" fill="none"/>
<text transform="translate(275.3,316.81) rotate(-90)" x="0" y="0" font-family='"Liberation Sans", sans-serif' font-size="8.6" font-weight="bold" fill="#0a0a0a" stroke="#0a0a0a" stroke-width="0.15" textLength="52.28" lengthAdjust="spacingAndGlyphs">% total CD34</text>
<path d="M267.6,261.9H270.4M269,260.5V263.3" stroke="#0a0a0a" stroke-width="0.95" fill="none"/>
<text transform="translate(275.3,257.94) rotate(-90)" x="0" y="0" font-family='"Liberation Sans", sans-serif' font-size="8.6" font-weight="bold" fill="#0a0a0a" stroke="#0a0a0a" stroke-width="0.15" textLength="62.73" lengthAdjust="spacingAndGlyphs">cells recovered</text>
<line x1="298.4" y1="205.12" x2="298.4" y2="309.1" stroke="#000000" stroke-width="1.35"/>
<line x1="295.4" y1="205.8" x2="298.4" y2="205.8" stroke="#000000" stroke-width="1.35"/>
<text x="294.1" y="208.22" font-family='"Liberation Sans", sans-serif' font-size="7" font-weight="bold" fill="#0a0a0a" stroke="#0a0a0a" stroke-width="0.2" text-anchor="end">100</text>
<line x1="295.4" y1="226.5" x2="298.4" y2="226.5" stroke="#000000" stroke-width="1.35"/>
<text x="294.1" y="228.91" font-family='"Liberation Sans", sans-serif' font-size="7" font-weight="bold" fill="#0a0a0a" stroke="#0a0a0a" stroke-width="0.2" text-anchor="end">80</text>
<line x1="295.4" y1="247.1" x2="298.4" y2="247.1" stroke="#000000" stroke-width="1.35"/>
<text x="294.1" y="249.51" font-family='"Liberation Sans", sans-serif' font-size="7" font-weight="bold" fill="#0a0a0a" stroke="#0a0a0a" stroke-width="0.2" text-anchor="end">60</text>
<line x1="295.4" y1="267.8" x2="298.4" y2="267.8" stroke="#000000" stroke-width="1.35"/>
<text x="294.1" y="270.22" font-family='"Liberation Sans", sans-serif' font-size="7" font-weight="bold" fill="#0a0a0a" stroke="#0a0a0a" stroke-width="0.2" text-anchor="end">40</text>
<line x1="295.4" y1="288.4" x2="298.4" y2="288.4" stroke="#000000" stroke-width="1.35"/>
<text x="294.1" y="290.81" font-family='"Liberation Sans", sans-serif' font-size="7" font-weight="bold" fill="#0a0a0a" stroke="#0a0a0a" stroke-width="0.2" text-anchor="end">20</text>
<line x1="295.4" y1="309.1" x2="298.4" y2="309.1" stroke="#000000" stroke-width="1.35"/>
<text x="294.09" y="311.52" font-family='"Liberation Sans", sans-serif' font-size="7" font-weight="bold" fill="#0a0a0a" stroke="#0a0a0a" stroke-width="0.2" text-anchor="end">0</text>
<line x1="298.4" y1="309.1" x2="453.7" y2="309.1" stroke="#000000" stroke-width="1.45"/>
<line x1="317.7" y1="309.1" x2="317.7" y2="311.3" stroke="#000000" stroke-width="1"/>
<line x1="356.5" y1="309.1" x2="356.5" y2="311.3" stroke="#000000" stroke-width="1"/>
<line x1="395.5" y1="309.1" x2="395.5" y2="311.3" stroke="#000000" stroke-width="1"/>
<line x1="434" y1="309.1" x2="434" y2="311.3" stroke="#000000" stroke-width="1"/>
<rect x="305.33" y="268.43" width="25.05" height="40.68" fill="#ffffff" stroke="#000000" stroke-width="1.45" rx="0"/>
<line x1="317.55" y1="263.5" x2="317.55" y2="272.8" stroke="#000000" stroke-width="1.4"/>
<line x1="310.8" y1="263.5" x2="324.3" y2="263.5" stroke="#000000" stroke-width="1.5"/>
<line x1="310.8" y1="272.8" x2="324.3" y2="272.8" stroke="#000000" stroke-width="1.5"/>
<rect x="344.43" y="246.53" width="24.75" height="62.58" fill="#c9c9c9" stroke="#000000" stroke-width="1.45" rx="0"/>
<line x1="356.65" y1="229.9" x2="356.65" y2="262" stroke="#000000" stroke-width="1.4"/>
<line x1="350.2" y1="229.9" x2="363.1" y2="229.9" stroke="#000000" stroke-width="1.5"/>
<line x1="350.2" y1="262" x2="363.1" y2="262" stroke="#000000" stroke-width="1.5"/>
<rect x="383.23" y="253.53" width="24.45" height="55.58" fill="#6f6f6f" stroke="#000000" stroke-width="1.45" rx="0"/>
<line x1="395.5" y1="241.8" x2="395.5" y2="262.8" stroke="#000000" stroke-width="1.4"/>
<line x1="389.3" y1="241.8" x2="401.7" y2="241.8" stroke="#000000" stroke-width="1.5"/>
<line x1="389.3" y1="262.8" x2="401.7" y2="262.8" stroke="#000000" stroke-width="1.5"/>
<rect x="421.23" y="274.62" width="25.45" height="34.48" fill="#232323" stroke="#000000" stroke-width="1.45" rx="0"/>
<line x1="313.2" y1="222.6" x2="444" y2="222.6" stroke="#000000" stroke-width="1.8"/>
<text x="370.5" y="216.4" font-family='"Liberation Sans", sans-serif' font-size="6.5" font-weight="bold" fill="#0a0a0a" stroke="#0a0a0a" stroke-width="0.2" text-anchor="middle">ns</text>
<text x="314.44" y="324.4" font-family='"Liberation Sans", sans-serif' font-size="8.2" font-weight="bold" fill="#0a0a0a" stroke="#0a0a0a" stroke-width="0.25" textLength="10.26" lengthAdjust="spacingAndGlyphs">UT</text>
<text x="351.07" y="324.4" font-family='"Liberation Sans", sans-serif' font-size="8.2" font-weight="bold" fill="#0a0a0a" stroke="#0a0a0a" stroke-width="0.25" textLength="10.79" lengthAdjust="spacingAndGlyphs">NL</text>
<text x="388.07" y="324.4" font-family='"Liberation Sans", sans-serif' font-size="8.2" font-weight="bold" fill="#0a0a0a" stroke="#0a0a0a" stroke-width="0.25" textLength="17.22" lengthAdjust="spacingAndGlyphs">RUX</text>
<text x="422.98" y="324.4" font-family='"Liberation Sans", sans-serif' font-size="8.2" font-weight="bold" fill="#0a0a0a" stroke="#0a0a0a" stroke-width="0.25" textLength="32.23" lengthAdjust="spacingAndGlyphs">NL+RUX</text>
<text x="266.5" y="343.6" font-family='"Liberation Sans", sans-serif' font-size="11" font-weight="bold" fill="#0a0a0a" stroke="#0a0a0a" stroke-width="0.2" text-anchor="start">F</text>
<text x="343.48" y="354.9" font-family='"Liberation Sans", sans-serif' font-size="11.5" font-weight="bold" fill="#0a0a0a" stroke="#0a0a0a" stroke-width="0.3" textLength="80.28" lengthAdjust="spacingAndGlyphs">NORMAL CD34</text>
<path d="M424.8,348.9H428.4M426.6,347.1V350.7" stroke="#0a0a0a" stroke-width="1.2" fill="none"/>
<text transform="translate(278.3,461.82) rotate(-90)" x="0" y="0" font-family='"Liberation Sans", sans-serif' font-size="8.8" font-weight="bold" fill="#0a0a0a" stroke="#0a0a0a" stroke-width="0.15" textLength="97.33" lengthAdjust="spacingAndGlyphs">%Annexin within CFSE</text>
<text transform="translate(273.7,363.01) rotate(-90)" x="0" y="0" font-family='"Liberation Sans", sans-serif' font-size="6.6" font-weight="bold" fill="#0a0a0a" stroke="#0a0a0a" stroke-width="0.25" textLength="12.76" lengthAdjust="spacingAndGlyphs">max</text>
<line x1="302.3" y1="350.93" x2="302.3" y2="457.7" stroke="#000000" stroke-width="1.35"/>
<line x1="299.4" y1="351.6" x2="302.3" y2="351.6" stroke="#000000" stroke-width="1.35"/>
<text x="298.1" y="354.02" font-family='"Liberation Sans", sans-serif' font-size="7" font-weight="bold" fill="#0a0a0a" stroke="#0a0a0a" stroke-width="0.2" text-anchor="end">100</text>
<line x1="299.4" y1="372.85" x2="302.3" y2="372.85" stroke="#000000" stroke-width="1.35"/>
<text x="298.1" y="375.27" font-family='"Liberation Sans", sans-serif' font-size="7" font-weight="bold" fill="#0a0a0a" stroke="#0a0a0a" stroke-width="0.2" text-anchor="end">80</text>
<line x1="299.4" y1="394.1" x2="302.3" y2="394.1" stroke="#000000" stroke-width="1.35"/>
<text x="298.1" y="396.52" font-family='"Liberation Sans", sans-serif' font-size="7" font-weight="bold" fill="#0a0a0a" stroke="#0a0a0a" stroke-width="0.2" text-anchor="end">60</text>
<line x1="299.4" y1="415.3" x2="302.3" y2="415.3" stroke="#000000" stroke-width="1.35"/>
<text x="298.1" y="417.72" font-family='"Liberation Sans", sans-serif' font-size="7" font-weight="bold" fill="#0a0a0a" stroke="#0a0a0a" stroke-width="0.2" text-anchor="end">40</text>
<line x1="299.4" y1="436.5" x2="302.3" y2="436.5" stroke="#000000" stroke-width="1.35"/>
<text x="298.1" y="438.92" font-family='"Liberation Sans", sans-serif' font-size="7" font-weight="bold" fill="#0a0a0a" stroke="#0a0a0a" stroke-width="0.2" text-anchor="end">20</text>
<line x1="299.4" y1="457.7" x2="302.3" y2="457.7" stroke="#000000" stroke-width="1.35"/>
<text x="298.09" y="460.12" font-family='"Liberation Sans", sans-serif' font-size="7" font-weight="bold" fill="#0a0a0a" stroke="#0a0a0a" stroke-width="0.2" text-anchor="end">0</text>
<line x1="302.3" y1="457.7" x2="458.7" y2="457.7" stroke="#000000" stroke-width="1.45"/>
<line x1="321.2" y1="457.7" x2="321.2" y2="459.9" stroke="#000000" stroke-width="1"/>
<line x1="362.1" y1="457.7" x2="362.1" y2="459.9" stroke="#000000" stroke-width="1"/>
<line x1="400.7" y1="457.7" x2="400.7" y2="459.9" stroke="#000000" stroke-width="1"/>
<line x1="438.9" y1="457.7" x2="438.9" y2="459.9" stroke="#000000" stroke-width="1"/>
<rect x="309.53" y="455.73" width="25.55" height="1.97" fill="#ffffff" stroke="#000000" stroke-width="1.45" rx="0"/>
<line x1="322.3" y1="454.5" x2="322.3" y2="456.5" stroke="#000000" stroke-width="1.4"/>
<line x1="315.8" y1="454.5" x2="328.8" y2="454.5" stroke="#000000" stroke-width="1.5"/>
<line x1="315.8" y1="456.5" x2="328.8" y2="456.5" stroke="#000000" stroke-width="1.5"/>
<rect x="348.83" y="453.62" width="25.05" height="4.08" fill="#c9c9c9" stroke="#000000" stroke-width="1.45" rx="0"/>
<line x1="361.65" y1="449.7" x2="361.65" y2="456.7" stroke="#000000" stroke-width="1.4"/>
<line x1="355.5" y1="449.7" x2="367.8" y2="449.7" stroke="#000000" stroke-width="1.5"/>
<line x1="355.5" y1="456.7" x2="367.8" y2="456.7" stroke="#000000" stroke-width="1.5"/>
<rect x="387.62" y="454.33" width="24.55" height="3.37" fill="#6f6f6f" stroke="#000000" stroke-width="1.45" rx="0"/>
<line x1="400.5" y1="450.7" x2="400.5" y2="456.5" stroke="#000000" stroke-width="1.4"/>
<line x1="394.2" y1="450.7" x2="406.8" y2="450.7" stroke="#000000" stroke-width="1.5"/>
<line x1="394.2" y1="456.5" x2="406.8" y2="456.5" stroke="#000000" stroke-width="1.5"/>
<rect x="426.53" y="441.03" width="24.55" height="16.67" fill="#232323" stroke="#000000" stroke-width="1.45" rx="0"/>
<line x1="439.25" y1="428.9" x2="439.25" y2="452.4" stroke="#000000" stroke-width="1.4"/>
<line x1="432.8" y1="428.9" x2="445.7" y2="428.9" stroke="#000000" stroke-width="1.5"/>
<line x1="432.8" y1="452.4" x2="445.7" y2="452.4" stroke="#000000" stroke-width="1.5"/>
<line x1="316.4" y1="424.9" x2="442.3" y2="424.9" stroke="#000000" stroke-width="1.7"/>
<text x="377.4" y="416.9" font-family='"Liberation Sans", sans-serif' font-size="6.5" font-weight="bold" fill="#0a0a0a" stroke="#0a0a0a" stroke-width="0.2" text-anchor="middle">ns</text>
<text x="315.7" y="475.5" font-family='"Liberation Sans", sans-serif' font-size="8.2" font-weight="bold" fill="#0a0a0a" stroke="#0a0a0a" stroke-width="0.25" textLength="11" lengthAdjust="spacingAndGlyphs">UT</text>
<text x="356.63" y="475.5" font-family='"Liberation Sans", sans-serif' font-size="8.2" font-weight="bold" fill="#0a0a0a" stroke="#0a0a0a" stroke-width="0.25" textLength="11.66" lengthAdjust="spacingAndGlyphs">NL</text>
<text x="392.18" y="475.5" font-family='"Liberation Sans", sans-serif' font-size="8.2" font-weight="bold" fill="#0a0a0a" stroke="#0a0a0a" stroke-width="0.25" textLength="16.91" lengthAdjust="spacingAndGlyphs">RUX</text>
<text x="426.48" y="475.5" font-family='"Liberation Sans", sans-serif' font-size="8.2" font-weight="bold" fill="#0a0a0a" stroke="#0a0a0a" stroke-width="0.25" textLength="32.33" lengthAdjust="spacingAndGlyphs">NL+RUX</text>
<text x="149.3" y="500.1" font-family='"Liberation Sans", sans-serif' font-size="11" font-weight="bold" fill="#0a0a0a" stroke="#0a0a0a" stroke-width="0.2" text-anchor="start">G</text>
<text x="209.76" y="500.4" font-family='"Liberation Sans", sans-serif' font-size="11.5" font-weight="bold" fill="#0a0a0a" stroke="#0a0a0a" stroke-width="0.3" textLength="54.52" lengthAdjust="spacingAndGlyphs">CML CD34</text>
<path d="M265.4,494.6H268.6M267,493V496.2" stroke="#0a0a0a" stroke-width="1.2" fill="none"/>
<text x="272.05" y="500.4" font-family='"Liberation Sans", sans-serif' font-size="11.5" font-weight="bold" fill="#0a0a0a" stroke="#0a0a0a" stroke-width="0.3" textLength="28.91" lengthAdjust="spacingAndGlyphs">CD38</text>
<line x1="301" y1="494.6" x2="303.6" y2="494.6" stroke="#0a0a0a" stroke-width="1.2"/>
<text transform="translate(170.2,624.89) rotate(-90)" x="0" y="0" font-family='"Liberation Sans", sans-serif' font-size="7.7" font-weight="bold" fill="#0a0a0a" stroke="#0a0a0a" stroke-width="0.15" textLength="101.58" lengthAdjust="spacingAndGlyphs">% viable cells relative to UT</text>
<line x1="186.9" y1="519.12" x2="186.9" y2="630.6" stroke="#000000" stroke-width="1.35"/>
<line x1="184" y1="519.8" x2="186.9" y2="519.8" stroke="#000000" stroke-width="1.35"/>
<text x="183.25" y="521.8" font-family='"Liberation Sans", sans-serif' font-size="5.8" font-weight="bold" fill="#0a0a0a" stroke="#0a0a0a" stroke-width="0.2" text-anchor="end">100</text>
<line x1="184" y1="547.5" x2="186.9" y2="547.5" stroke="#000000" stroke-width="1.35"/>
<text x="183.16" y="549.5" font-family='"Liberation Sans", sans-serif' font-size="5.8" font-weight="bold" fill="#0a0a0a" stroke="#0a0a0a" stroke-width="0.2" text-anchor="end">75</text>
<line x1="184" y1="575.2" x2="186.9" y2="575.2" stroke="#000000" stroke-width="1.35"/>
<text x="183.25" y="577.2" font-family='"Liberation Sans", sans-serif' font-size="5.8" font-weight="bold" fill="#0a0a0a" stroke="#0a0a0a" stroke-width="0.2" text-anchor="end">50</text>
<line x1="184" y1="602.9" x2="186.9" y2="602.9" stroke="#000000" stroke-width="1.35"/>
<text x="183.16" y="604.9" font-family='"Liberation Sans", sans-serif' font-size="5.8" font-weight="bold" fill="#0a0a0a" stroke="#0a0a0a" stroke-width="0.2" text-anchor="end">25</text>
<line x1="184" y1="630.6" x2="186.9" y2="630.6" stroke="#000000" stroke-width="1.35"/>
<text x="183.24" y="632.6" font-family='"Liberation Sans", sans-serif' font-size="5.8" font-weight="bold" fill="#0a0a0a" stroke="#0a0a0a" stroke-width="0.2" text-anchor="end">0</text>
<line x1="186.9" y1="630.6" x2="351.5" y2="630.6" stroke="#000000" stroke-width="1.45"/>
<line x1="207.5" y1="630.6" x2="207.5" y2="632.8" stroke="#000000" stroke-width="1"/>
<line x1="248.9" y1="630.6" x2="248.9" y2="632.8" stroke="#000000" stroke-width="1"/>
<line x1="289.3" y1="630.6" x2="289.3" y2="632.8" stroke="#000000" stroke-width="1"/>
<line x1="330.9" y1="630.6" x2="330.9" y2="632.8" stroke="#000000" stroke-width="1"/>
<rect x="194.22" y="521.02" width="26.35" height="109.58" fill="#ffffff" stroke="#000000" stroke-width="1.45" rx="0"/>
<rect x="235.72" y="585.52" width="26.25" height="45.08" fill="#c9c9c9" stroke="#000000" stroke-width="1.45" rx="0"/>
<line x1="248.85" y1="576.9" x2="248.85" y2="591.9" stroke="#000000" stroke-width="1.4"/>
<line x1="241.9" y1="576.9" x2="255.8" y2="576.9" stroke="#000000" stroke-width="1.5"/>
<line x1="241.9" y1="591.9" x2="255.8" y2="591.9" stroke="#000000" stroke-width="1.5"/>
<rect x="276.12" y="569.33" width="26.65" height="61.27" fill="#6f6f6f" stroke="#000000" stroke-width="1.45" rx="0"/>
<line x1="289.75" y1="565.8" x2="289.75" y2="571.6" stroke="#000000" stroke-width="1.4"/>
<line x1="282.8" y1="565.8" x2="296.7" y2="565.8" stroke="#000000" stroke-width="1.5"/>
<line x1="282.8" y1="571.6" x2="296.7" y2="571.6" stroke="#000000" stroke-width="1.5"/>
<rect x="317.93" y="614.93" width="26.45" height="15.67" fill="#232323" stroke="#000000" stroke-width="1.45" rx="0"/>
<line x1="331" y1="608.9" x2="331" y2="619.6" stroke="#000000" stroke-width="1.4"/>
<line x1="324.3" y1="608.9" x2="337.7" y2="608.9" stroke="#000000" stroke-width="1.5"/>
<line x1="324.3" y1="619.6" x2="337.7" y2="619.6" stroke="#000000" stroke-width="1.5"/>
<path d="M248.5,572.7 V518.9 H330.5 V597.2" stroke="#000000" stroke-width="1.7" fill="none"/>
<circle cx="285.5" cy="512.4" r="1.1" fill="#0a0a0a"/>
<text x="202.33" y="645.3" font-family='"Liberation Sans", sans-serif' font-size="8.2" font-weight="bold" fill="#0a0a0a" stroke="#0a0a0a" stroke-width="0.25" textLength="10.37" lengthAdjust="spacingAndGlyphs">UT</text>
<text x="243.25" y="645.3" font-family='"Liberation Sans", sans-serif' font-size="8.2" font-weight="bold" fill="#0a0a0a" stroke="#0a0a0a" stroke-width="0.25" textLength="11.23" lengthAdjust="spacingAndGlyphs">NL</text>
<text x="280.66" y="645.3" font-family='"Liberation Sans", sans-serif' font-size="8.2" font-weight="bold" fill="#0a0a0a" stroke="#0a0a0a" stroke-width="0.25" textLength="17.53" lengthAdjust="spacingAndGlyphs">RUX</text>
<text x="317.68" y="645.3" font-family='"Liberation Sans", sans-serif' font-size="8.2" font-weight="bold" fill="#0a0a0a" stroke="#0a0a0a" stroke-width="0.25" textLength="32.43" lengthAdjust="spacingAndGlyphs">NL+RUX</text>
</svg>
</body></html>
